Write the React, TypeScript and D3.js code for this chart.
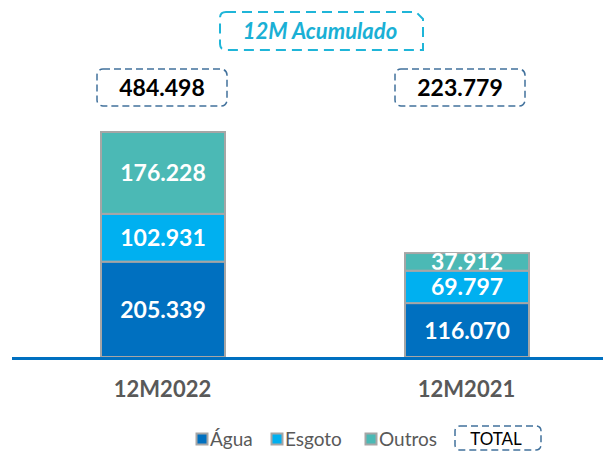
import React from "react";
import * as d3 from "d3";

const categories = ["12M2022", "12M2021"];
const agua = [205.339, 116.07];
const esgoto = [102.931, 69.797];
const outros = [176.228, 37.912];
const totals = [484.498, 223.779];
const seriesNames = ["Água", "Esgoto", "Outros"];
const title = "12M Acumulado";
const totalLabel = "TOTAL";

const colors = ["#0070C0", "#00B0F0", "#4BB9B5"];
const W = 603;
const H = 453;
const FONT = "Lato, 'Open Sans', sans-serif";

const fmt = (v: number) => v.toFixed(3);

export default function App() {
  const x = d3.scalePoint<string>().domain(categories).range([11, 619]).padding(0.5);
  const y = d3.scaleLinear().domain([0, totals[0]]).range([357, 132]);
  const barW = 124;

  const rows = categories.map((c, i) => ({ cat: c, Água: agua[i], Esgoto: esgoto[i], Outros: outros[i] }));
  const stack = d3.stack<any>().keys(seriesNames)(rows);

  const totalBoxX = [162, 460];

  return (
    <svg width={W} height={H} style={{ position: "absolute", left: 0, top: 0, background: "#fff" }}>
      <defs>
        {stack.map((s, si) =>
          s.map((d, i) => {
            const cx = x(categories[i]) as number;
            const y0 = y(d[0]);
            const y1 = y(d[1]);
            return (
              <clipPath key={`c${si}-${i}`} id={`clip-${si}-${i}`}>
                <rect x={cx - barW / 2} y={Math.min(y1, y0 - 30)} width={barW} height={y0 - Math.min(y1, y0 - 30) - 1} />
              </clipPath>
            );
          })
        )}
      </defs>
      {/* title */}
      <path
        d="M226,12 H416 L423,19 V50 H226 Q220,50 220,44 V18 Q220,12 226,12 Z"
        fill="none"
        stroke="#1FB5D8"
        strokeWidth={2}
        strokeDasharray="10,6"
      />
      <text x={320} y={39} textAnchor="middle" fontFamily={FONT} fontWeight="bold" fontStyle="italic" fontSize={22} fill="#1AB0D5">
        {title}
      </text>

      {/* stacked bars */}
      {stack.map((s, si) =>
        s.map((d, i) => {
          const cx = x(categories[i]) as number;
          const y0 = y(d[0]);
          const y1 = y(d[1]);
          return (
            <g key={`${si}-${i}`}>
              <rect x={cx - barW / 2} y={y1} width={barW} height={y0 - y1} fill={colors[si]} stroke="#A6A6A6" strokeWidth={2} />
              <text
                x={cx}
                y={(y0 + y1) / 2 + 8.5}
                textAnchor="middle"
                fontFamily={FONT}
                fontWeight="bold"
                fontSize={23}
                fill="#fff"
                clipPath={`url(#clip-${si}-${i})`}
              >
                {fmt(d[1] - d[0])}
              </text>
            </g>
          );
        })
      )}

      {/* axis line */}
      <line x1={12} x2={603} y1={358.5} y2={358.5} stroke="#0070C0" strokeWidth={3} />

      {/* total boxes */}
      {totals.map((t, i) => (
        <g key={`t${i}`}>
          <rect x={totalBoxX[i] - 65} y={69} width={130} height={37} rx={6} fill="none" stroke="#41719C" strokeWidth={1.5} strokeDasharray="7,4" />
          <text x={totalBoxX[i]} y={96} textAnchor="middle" fontFamily={FONT} fontWeight="bold" fontSize={23} fill="#000">
            {fmt(t)}
          </text>
        </g>
      ))}

      {/* category labels */}
      {categories.map((c) => (
        <text key={c} x={(x(c) as number) - 0.5} y={397} textAnchor="middle" fontFamily={FONT} fontWeight="bold" fontSize={22} fill="#595959">
          {c}
        </text>
      ))}

      {/* legend */}
      {seriesNames.map((n, i) => {
        const lx = [196, 271, 365][i];
        return (
          <g key={n}>
            <rect x={lx + 0.5} y={433.5} width={11} height={11} fill={colors[i]} stroke="#A6A6A6" strokeWidth={2} />
            <text x={lx + 14} y={446} fontFamily={FONT} fontSize={19} fill="#595959">
              {n}
            </text>
          </g>
        );
      })}
      <rect x={455} y={426} width={86} height={24} rx={5} fill="none" stroke="#41719C" strokeWidth={1.5} strokeDasharray="7,4" />
      <text x={496} y={444.5} textAnchor="middle" fontFamily={FONT} fontSize={17} fill="#000">
        {totalLabel}
      </text>
    </svg>
  );
}
